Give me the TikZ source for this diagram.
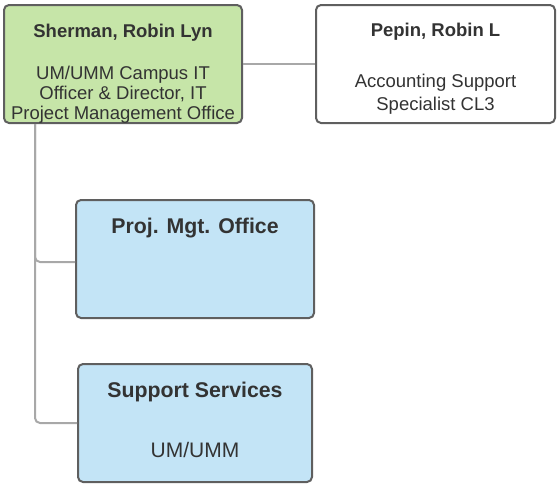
\documentclass[tikz,border=0pt]{standalone}
\usepackage{fontspec}
\setmainfont{Liberation Sans}
\usetikzlibrary{positioning}

\definecolor{headgreen}{HTML}{C6E5A8}
\definecolor{unitblue}{HTML}{C3E4F6}
\definecolor{boxline}{HTML}{5F5F5F}
\definecolor{wiregray}{HTML}{A8A8A8}
\definecolor{ink}{HTML}{333333}

\begin{document}
\begin{tikzpicture}[x=1pt, y=-1pt]
    \tikzstyle{card} = [draw=boxline, line width=2pt, rounded corners=5pt, inner sep=0pt, minimum width=238pt, minimum height=118pt];
    \tikzstyle{personname} = [text=ink, anchor=base, inner sep=0pt, font=\bfseries\fontsize{18.5}{19.7}\selectfont];
    \tikzstyle{roletext} = [text=ink, anchor=base, inner sep=0pt, align=center, font=\fontsize{18.5}{19.7}\selectfont];
    \tikzstyle{unitname} = [text=ink, anchor=base, inner sep=0pt, font=\bfseries\fontsize{21.3}{24}\selectfont];
    \tikzstyle{link} = [draw=wiregray, line width=2pt, rounded corners=5pt];

    \useasboundingbox (0, 0) rectangle (558, 485);

    \node[card, fill=headgreen] at (123, 64) (sherman) {};
    \node[card, fill=white, minimum width=239pt] at (435.5, 64) (pepin) {};
    \node[card, fill=unitblue] at (195, 259) (pmo) {};
    \node[card, fill=unitblue, minimum width=234pt] at (195, 423) (support) {};

    % base anchor of the role lines sits on their last line
    \node[personname] at (123, 37.3) (shermanname) {Sherman, Robin Lyn};
    \node[roletext] at (123, 119) (shermanrole) {UM/UMM Campus IT\\Officer \& Director, IT\\Project Management Office};
    \node[personname] at (435.5, 36.7) (pepinname) {Pepin, Robin L};
    \node[roletext, font=\fontsize{18.5}{22.7}\selectfont] at (435.5, 110) (pepinrole) {Accounting Support\\Specialist CL3};
    \node[unitname] at (195, 233.3) (pmoname) {Proj. Mgt. Office};
    \node[unitname] at (195, 397) (supportname) {Support Services};
    \node[roletext, font=\fontsize{21}{24}\selectfont] at (195, 457) (supportrole) {UM/UMM};

    \draw[link] (sherman.east) -- (pepin.west);
    \draw[link] ([xshift=32pt]sherman.south west) |- ([yshift=-3pt]pmo.west);
    \draw[link] ([xshift=32pt]sherman.south west) |- (support.west);
\end{tikzpicture}
\end{document}
